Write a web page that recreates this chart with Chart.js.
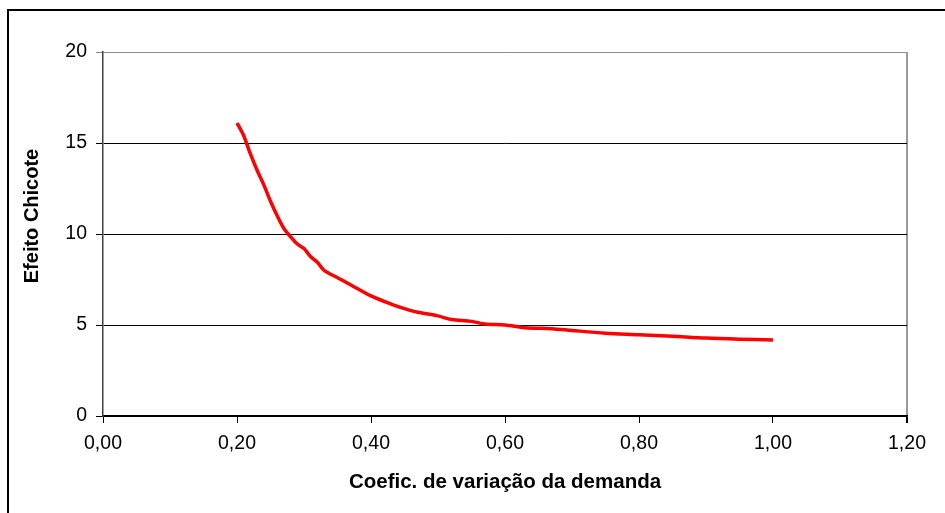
<!DOCTYPE html>
<html>
<head>
<meta charset="utf-8">
<script src="https://cdn.jsdelivr.net/npm/chart.js@4/dist/chart.umd.min.js"></script>
<style>
    html, body { margin: 0; padding: 0; background: #fff; overflow: hidden; }
    #frame { position: absolute; left: 7px; top: 9px; width: 980px; height: 600px; border: 2px solid #000; }
    #wrap { position: absolute; left: 0; top: 0; width: 945px; height: 513px; }
</style>
</head>
<body>
<div id="frame"></div>
<div id="wrap"><canvas id="chicoteChart" width="945" height="513"></canvas></div>
<script>
// Coeficiente de variação da demanda (eixo X)
const coefVariacao = [0.20, 0.21, 0.22, 0.23, 0.24, 0.25, 0.26, 0.27, 0.28, 0.29,
    0.30, 0.31, 0.32, 0.33, 0.35, 0.37, 0.40, 0.43, 0.45, 0.47,
    0.50, 0.52, 0.55, 0.57, 0.60, 0.63, 0.67, 0.70, 0.75, 0.80,
    0.85, 0.90, 0.95, 1.00];
// Efeito chicote (eixo Y)
const efeitoChicote = [16.1, 15.4, 14.4, 13.5, 12.7, 11.8, 11.0, 10.3, 9.85, 9.45,
    9.2, 8.75, 8.45, 8.0, 7.6, 7.2, 6.6, 6.15, 5.9, 5.7,
    5.5, 5.3, 5.2, 5.05, 5.0, 4.85, 4.8, 4.7, 4.55, 4.47,
    4.38, 4.28, 4.22, 4.18];

const xTitulo = 'Coefic. de variação da demanda';
const yTitulo = 'Efeito Chicote';

const FONT = "'Liberation Sans', Arial, sans-serif";

// desenha o título do eixo Y na posição do original
const yTitlePlugin = {
    id: 'yTitle',
    afterDraw(chart) {
        const ctx = chart.ctx;
        ctx.save();
        ctx.translate(32, 216);
        ctx.rotate(-Math.PI / 2);
        ctx.font = "bold 20px " + FONT;
        ctx.fillStyle = '#000';
        ctx.textAlign = 'center';
        ctx.textBaseline = 'middle';
        ctx.fillText(yTitulo, 0, 0);
        ctx.restore();
    }
};

const points = coefVariacao.map((x, i) => ({ x: x, y: efeitoChicote[i] }));

new Chart(document.getElementById('chicoteChart'), {
    type: 'scatter',
    data: {
        datasets: [{
            data: points,
            showLine: true,
            borderColor: '#ff0000',
            borderWidth: 3.5,
            pointRadius: 0,
            tension: 0.3
        }]
    },
    options: {
        responsive: false,
        animation: false,
        layout: { padding: { left: 10, right: 38, top: 52, bottom: 0 } },
        plugins: { legend: { display: false }, tooltip: { enabled: false } },
        scales: {
            x: {
                type: 'linear',
                min: 0,
                max: 1.2,
                afterFit: (scale) => { scale.height = 97; },
                ticks: {
                    stepSize: 0.2,
                    padding: 9,
                    color: '#000',
                    font: { family: FONT, size: 19.5 },
                    callback: (v) => v.toFixed(2).replace('.', ',')
                },
                grid: {
                    tickLength: 7,
                    lineWidth: (c) => (c.index === 6 ? 2 : 1),
                    color: (c) => (c.index === 6 ? '#9a9a9a' : 'rgba(0,0,0,0)'),
                    tickColor: '#000'
                },
                border: { color: '#000', width: 1.5 },
                title: {
                    display: true,
                    text: xTitulo,
                    color: '#000',
                    font: { family: FONT, size: 20.5, weight: 'bold' },
                    padding: { top: 0, bottom: 18 }
                }
            },
            y: {
                min: 0,
                max: 20,
                afterFit: (scale) => { scale.width = 93; },
                ticks: {
                    stepSize: 5,
                    padding: 9,
                    color: '#000',
                    font: { family: FONT, size: 19.5 }
                },
                grid: {
                    tickLength: 7,
                    color: (c) => (c.tick && c.tick.value === 20 ? '#8a8a8a' : '#000'),
                    lineWidth: 1
                },
                border: { color: '#404040', width: 1.5 }
            }
        }
    },
    plugins: [yTitlePlugin]
});
</script>
</body>
</html>
